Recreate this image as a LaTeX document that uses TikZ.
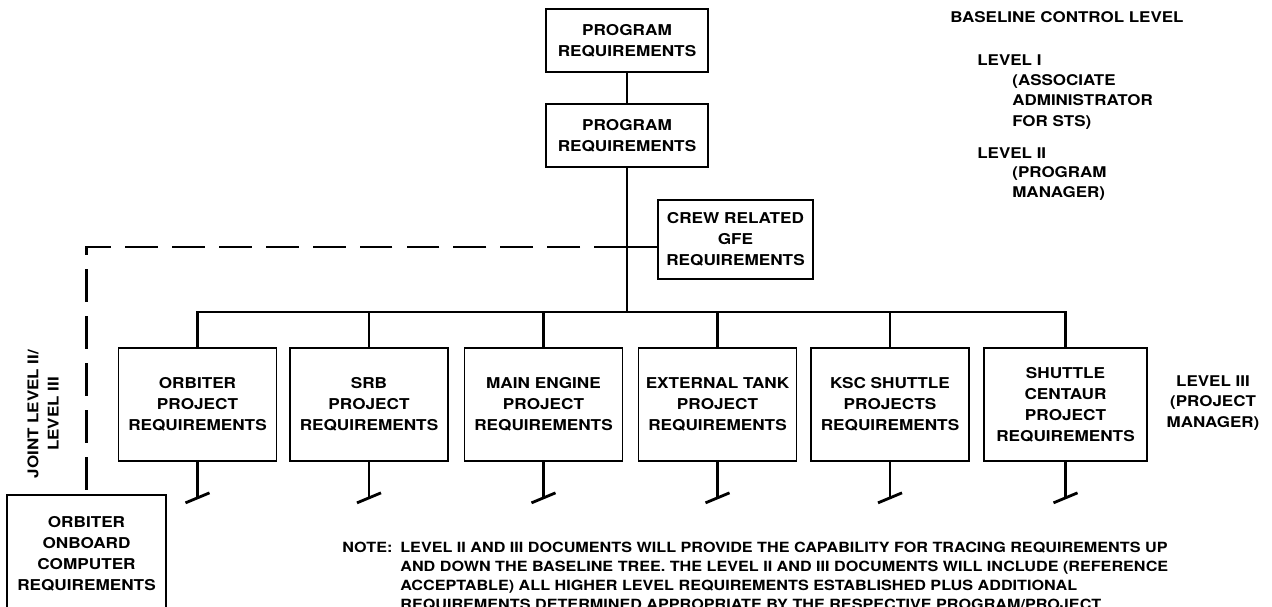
\documentclass[tikz,border=0pt]{standalone}
\usepackage{fontspec}
\newfontfamily\chartfont[FakeStretch=1.15]{TeX Gyre Heros}
\usepackage{tikz}

\begin{document}
\begin{tikzpicture}[x=0.02cm,y=-0.02cm,
  reqbox/.style={draw,line width=1pt,align=center,inner sep=2pt,
    font=\chartfont\bfseries\fontsize{8.5}{11.9}\selectfont},
  projbox/.style={reqbox,minimum width=3.16cm,minimum height=2.26cm},
  link/.style={line width=1.6pt},
  jointlink/.style={line width=1.6pt,dash pattern=on 18.7pt off 8pt},
  levellabel/.style={inner sep=0pt,align=left,
    font=\chartfont\bfseries\fontsize{8.4}{11.6}\selectfont},
  notetext/.style={inner sep=0pt,align=left,
    font=\chartfont\bfseries\fontsize{8}{10.8}\selectfont}]
  \useasboundingbox (0,0) rectangle (1272,607);
  \node[reqbox,minimum width=3.24cm,minimum height=1.26cm] (prog1) at (627,40.5) {PROGRAM\\REQUIREMENTS};
  \node[reqbox,minimum width=3.24cm,minimum height=1.26cm] (prog2) at (627,135.5) {PROGRAM\\REQUIREMENTS};
  \node[reqbox,minimum width=3.10cm,minimum height=1.58cm] (crew) at (735.5,239.5) {CREW RELATED\\GFE\\REQUIREMENTS};
  \node[projbox] (orb) at (197.5,404.5) {ORBITER\\PROJECT\\REQUIREMENTS};
  \node[projbox] (srb) at (369,404.5) {SRB\\PROJECT\\REQUIREMENTS};
  \node[projbox] (mainE) at (543.5,404.5) {MAIN ENGINE\\PROJECT\\REQUIREMENTS};
  \node[projbox] (extT) at (717.5,404.5) {EXTERNAL TANK\\PROJECT\\REQUIREMENTS};
  \node[projbox] (ksc) at (890,404.5) {KSC SHUTTLE\\PROJECTS\\REQUIREMENTS};
  \node[projbox,minimum width=3.26cm] (shc) at (1065.5,404.5) {SHUTTLE\\CENTAUR\\PROJECT\\REQUIREMENTS};
  \node[reqbox,minimum width=3.18cm,minimum height=2.34cm] (ooc) at (86.5,553.5) {ORBITER\\ONBOARD\\COMPUTER\\REQUIREMENTS};
  \coordinate (tap) at (627,247);
  \coordinate (bus) at (627,312);
  \draw[link] (prog1) -- (prog2);
  \draw[link] (prog2) -- (bus);
  \draw[link] (tap) -- (tap -| crew.west);
  \draw[jointlink] (tap) -| (ooc.north);
  \draw[link] (orb.north) |- (bus) -| (shc.north);
  \foreach \b in {srb,mainE,extT,ksc}
    \draw[link] (\b.north) -- (\b.north |- bus);
  \foreach \b in {orb,srb,mainE,extT,ksc,shc} {
    \draw[link] (\b.south) -- ++(0,36) coordinate (\b-end);
    \draw[link] ([shift={(-12,5)}]\b-end) -- ([shift={(12,-5)}]\b-end);
  }
  \node[levellabel,anchor=west] (baseline) at (950,17) {BASELINE CONTROL LEVEL};
  \node[levellabel,anchor=west] (lev1) at (977,60) {LEVEL I};
  \node[levellabel,anchor=west] (lev1who) at (1012,102) {(ASSOCIATE\\ADMINISTRATOR\\FOR STS)};
  \node[levellabel,anchor=west] (lev2) at (977,153) {LEVEL II};
  \node[levellabel,anchor=west] (lev2who) at (1012,183.5) {(PROGRAM\\MANAGER)};
  \node[levellabel,align=center] (lev3) at (1213,403) {LEVEL III\\(PROJECT\\MANAGER)};
  \node[levellabel,align=center,rotate=90] (joint) at (43,414) {JOINT LEVEL II/\\LEVEL III};
  \node[notetext,anchor=north west] (notehead) at (342,542) {NOTE:};
  \node[notetext,anchor=north west] (notebody) at (400,542) {LEVEL II AND III DOCUMENTS WILL PROVIDE THE CAPABILITY FOR TRACING REQUIREMENTS UP\\
    AND DOWN THE BASELINE TREE. THE LEVEL II AND III DOCUMENTS WILL INCLUDE (REFERENCE\\
    ACCEPTABLE) ALL HIGHER LEVEL REQUIREMENTS ESTABLISHED PLUS ADDITIONAL\\
    REQUIREMENTS DETERMINED APPROPRIATE BY THE RESPECTIVE PROGRAM/PROJECT};
\end{tikzpicture}
\end{document}
